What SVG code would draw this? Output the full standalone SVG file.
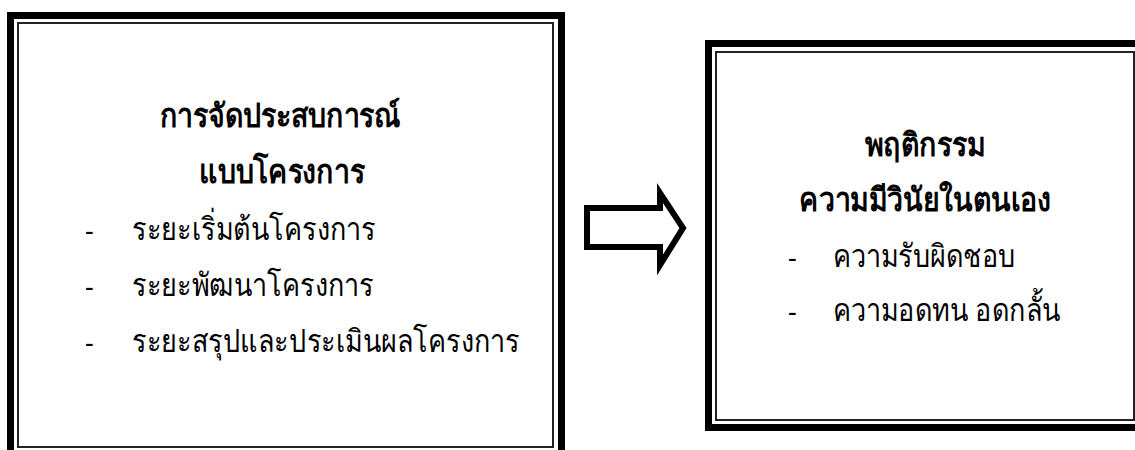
<svg xmlns="http://www.w3.org/2000/svg" width="1135" height="450" viewBox="0 0 1135 450">
<style>
.thick{fill:none;stroke:#000;stroke-width:7}
.thin{fill:none;stroke:#222;stroke-width:2}
.t{font-family:"Noto Sans","DejaVu Sans",sans-serif;font-size:27px;fill:#000}
.b{font-weight:bold;font-size:28.5px}
.m{text-anchor:middle}
</style>
<rect width="1135" height="450" fill="#fff"/>
<g id="box-left">
<rect class="thick" x="10.5" y="15.5" width="551" height="450"/>
<rect class="thin" x="18" y="23" width="535" height="424"/>
<text class="t b m" transform="translate(280,127) scale(1,1.15)">การจัดประสบการณ์</text>
<text class="t b m" transform="translate(282,183) scale(1,1.15)">แบบโครงการ</text>
<text class="t" x="85" y="240">-</text>
<text class="t" transform="translate(132,240) scale(1,1.17)">ระยะเริ่มต้นโครงการ</text>
<text class="t" x="85" y="296">-</text>
<text class="t" transform="translate(132,296) scale(1,1.17)">ระยะพัฒนาโครงการ</text>
<text class="t" x="85" y="352">-</text>
<text class="t" transform="translate(132,352) scale(1,1.17)">ระยะสรุปและประเมินผลโครงการ</text>
</g>
<g id="connectors">
<polygon points="587,208 660,208 660,193 683,228 660,265 660,247 587,247" fill="none" stroke="#000" stroke-width="6"/>
</g>
<g id="box-right">
<rect class="thick" x="708.5" y="43.5" width="440" height="384"/>
<rect class="thin" x="716" y="52" width="418" height="368"/>
<text class="t b m" transform="translate(925,156) scale(1,1.15)">พฤติกรรม</text>
<text class="t b m" transform="translate(925,211) scale(1,1.15)">ความมีวินัยในตนเอง</text>
<text class="t" x="788" y="267">-</text>
<text class="t" transform="translate(833,267) scale(1,1.17)">ความรับผิดชอบ</text>
<text class="t" x="788" y="321">-</text>
<text class="t" transform="translate(833,321) scale(1,1.17)">ความอดทน อดกลั้น</text>
</g>
</svg>
